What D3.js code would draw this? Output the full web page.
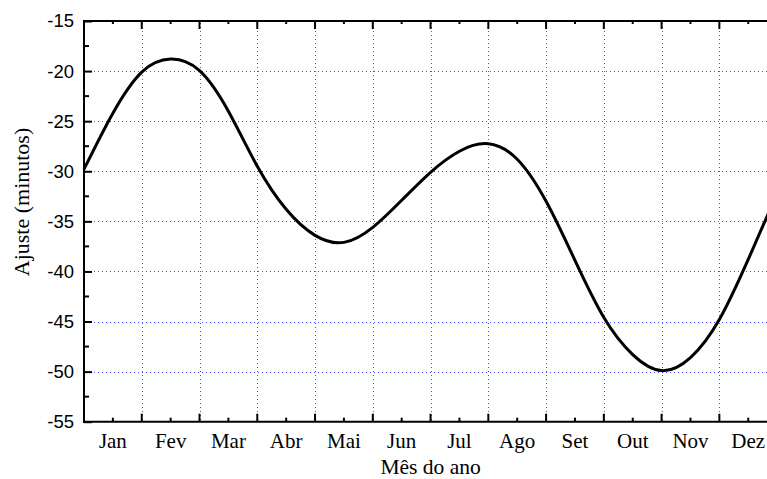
<!DOCTYPE html>
<html>
<head>
<meta charset="utf-8">
<script src="https://cdn.jsdelivr.net/npm/d3@7"></script>
<style>
html,body{margin:0;padding:0;background:#fff;overflow:hidden;}
svg{display:block;}
.serif{font-family:'Liberation Serif','Times New Roman',serif;}
.sans{font-family:'Liberation Sans',Arial,sans-serif;}
</style>
</head>
<body>
<svg id="chart" width="767" height="479"></svg>
<script>
// ---- data ----
const months = ["Jan","Fev","Mar","Abr","Mai","Jun","Jul","Ago","Set","Out","Nov","Dez"];
// position in months since 1 Jan (half-month steps)
const monthPos = [0, 0.5, 1, 1.5, 2, 2.5, 3, 3.5, 4, 4.5, 5, 5.5, 6, 6.5, 7, 7.5, 8, 8.5, 9, 9.5, 10, 10.5, 11, 11.5, 12];
const adjust   = [-29.8, -24.2, -20.1, -18.8, -19.95, -24.0, -29.5, -33.8, -36.4, -37.1, -35.6, -32.9, -30.1, -28.0, -27.25, -28.8, -33.0, -38.9, -44.6, -48.3, -49.9, -48.6, -44.8, -38.8, -32.2];
const yTicks = [-15, -20, -25, -30, -35, -40, -45, -50, -55];
const xTitle = "Mês do ano";
const yTitle = "Ajuste (minutos)";

// ---- layout ----
const L = 84, T = 21, B = 421.7, R = 84 + 12 * 57.76;
const svg = d3.select("#chart");
const x = d3.scaleLinear().domain([0, 12]).range([L, R]);
const y = d3.scaleLinear().domain([-55, -15]).range([B, T]);

// grid
const grid = svg.append("g").attr("stroke", "#4b4bff").attr("stroke-width", 1)
  .attr("stroke-dasharray", "1,3").attr("shape-rendering", "crispEdges");
d3.range(1, 12).forEach(m => {
  const gx = Math.round(x(m)) + 0.5;
  grid.append("line").attr("x1", gx).attr("x2", gx).attr("y1", T + 2).attr("y2", B - 1);
});
yTicks.filter(v => v !== -15 && v !== -55).forEach(v => {
  const gy = Math.round(y(v)) + 0.5;
  grid.append("line").attr("x1", L + 2).attr("x2", R).attr("y1", gy).attr("y2", gy);
});

// curve
const pts = monthPos.map((m, i) => [m, adjust[i]]);
const line = d3.line().x(d => x(d[0])).y(d => y(d[1])).curve(d3.curveNatural);
svg.append("path").datum(pts).attr("d", line)
  .attr("fill", "none").attr("stroke", "#000").attr("stroke-width", 3)
  .attr("stroke-linejoin", "round");

// axes: left (ticks inward)
const minorY = d3.range(-52.5, -15, 5);
const axL = svg.append("g").attr("transform", `translate(${L},0)`)
  .call(d3.axisLeft(y).tickValues(yTicks).tickSize(-8).tickPadding(10).tickFormat(d => String(d)));
axL.select(".domain").remove();
axL.attr("font-family", null).attr("font-size", null);
axL.selectAll(".tick line").attr("stroke", "#000").attr("stroke-width", 2);
axL.selectAll(".tick text").attr("class", "sans").attr("font-size", 18.5).attr("fill", "#000");
svg.append("g").selectAll("line").data(minorY).join("line")
  .attr("x1", L).attr("x2", L + 5).attr("y1", d => y(d)).attr("y2", d => y(d))
  .attr("stroke", "#000").attr("stroke-width", 2);

// bottom axis
const majorX = d3.range(0, 13);
const minorX = d3.range(0.5, 12, 1);
const axB = svg.append("g");
axB.selectAll("line.maj").data(majorX).join("line").attr("class", "maj")
  .attr("x1", d => x(d)).attr("x2", d => x(d)).attr("y1", B).attr("y2", B - 8)
  .attr("stroke", "#000").attr("stroke-width", 2);
axB.selectAll("line.min").data(minorX).join("line").attr("class", "min")
  .attr("x1", d => x(d)).attr("x2", d => x(d)).attr("y1", B).attr("y2", B - 4)
  .attr("stroke", "#000").attr("stroke-width", 2);
axB.selectAll("text").data(months).join("text")
  .attr("class", "serif")
  .attr("x", (d, i) => x(i + 0.5)).attr("y", 448)
  .attr("text-anchor", "middle").attr("font-size", 21)
  .text(d => d);

// top axis
const axT = svg.append("g");
axT.selectAll("line.maj").data(majorX).join("line").attr("class", "maj")
  .attr("x1", d => x(d)).attr("x2", d => x(d)).attr("y1", T).attr("y2", T + 8)
  .attr("stroke", "#000").attr("stroke-width", 2);
axT.selectAll("line.min").data(minorX).join("line").attr("class", "min")
  .attr("x1", d => x(d)).attr("x2", d => x(d)).attr("y1", T).attr("y2", T + 3)
  .attr("stroke", "#000").attr("stroke-width", 2);

// frame lines
svg.append("line").attr("x1", L).attr("x2", L).attr("y1", T - 1).attr("y2", B + 1).attr("stroke", "#000").attr("stroke-width", 2);
svg.append("line").attr("x1", L - 1).attr("x2", R).attr("y1", B).attr("y2", B).attr("stroke", "#000").attr("stroke-width", 2);
svg.append("line").attr("x1", L - 1).attr("x2", R).attr("y1", T).attr("y2", T).attr("stroke", "#000").attr("stroke-width", 2);

// titles
svg.append("text").attr("class", "serif").attr("x", (L + R) / 2).attr("y", 474).attr("text-anchor", "middle")
  .attr("font-size", 21.5).text(xTitle);
svg.append("text").attr("class", "serif").attr("transform", "translate(29,202) rotate(-90)").attr("text-anchor", "middle")
  .attr("font-size", 22).text(yTitle);
</script>
</body>
</html>
